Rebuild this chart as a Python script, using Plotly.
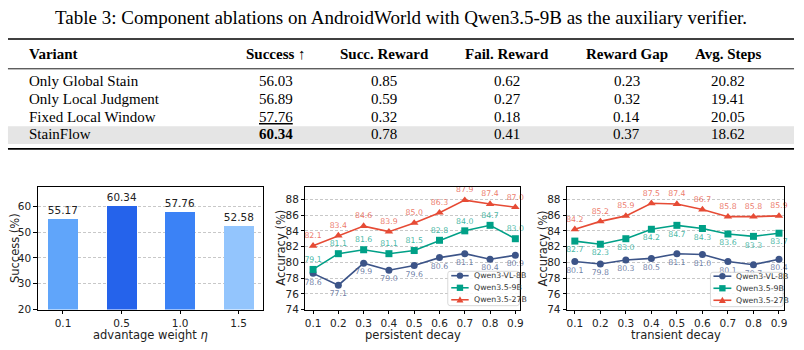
import plotly.graph_objects as go

W, H = 804, 350

# ---------------- data ----------------
caption = "Table 3: Component ablations on AndroidWorld with Qwen3.5-9B as the auxiliary verifier."
table_columns = ["Variant", "Success ↑", "Succ. Reward", "Fail. Reward", "Reward Gap", "Avg. Steps"]
variants = ["Only Global Stain", "Only Local Judgment", "Fixed Local Window", "StainFlow"]
success = ["56.03", "56.89", "<u>57.76</u>", "<b>60.34</b>"]
succ_reward = ["0.85", "0.59", "0.32", "0.78"]
fail_reward = ["0.62", "0.27", "0.18", "0.41"]
reward_gap = ["0.23", "0.32", "0.14", "0.37"]
avg_steps = ["20.82", "19.41", "20.05", "18.62"]

eta_labels = ["0.1", "0.5", "1.0", "1.5"]
eta_success = [55.17, 60.34, 57.76, 52.58]
bar_colors = ["#60a5fa", "#2563eb", "#3b82f6", "#93c5fd"]

decay = [0.1, 0.2, 0.3, 0.4, 0.5, 0.6, 0.7, 0.8, 0.9]
decay_labels = ["0.1", "0.2", "0.3", "0.4", "0.5", "0.6", "0.7", "0.8", "0.9"]
models = ["Qwen3-VL-8B", "Qwen3.5-9B", "Qwen3.5-27B"]
persistent = {
    "Qwen3-VL-8B": [78.6, 77.1, 79.9, 79.0, 79.6, 80.6, 81.1, 80.4, 80.9],
    "Qwen3.5-9B": [79.1, 81.1, 81.6, 81.1, 81.5, 82.8, 84.0, 84.7, 83.0],
    "Qwen3.5-27B": [82.1, 83.4, 84.6, 83.9, 85.0, 86.3, 87.9, 87.4, 87.0],
}
transient = {
    "Qwen3-VL-8B": [80.1, 79.8, 80.3, 80.5, 81.1, 81.0, 80.1, 79.7, 80.4],
    "Qwen3.5-9B": [82.7, 82.3, 83.0, 84.2, 84.7, 84.3, 83.6, 83.3, 83.7],
    "Qwen3.5-27B": [84.2, 85.2, 85.9, 87.5, 87.4, 86.7, 85.8, 85.8, 85.9],
}
model_colors = {"Qwen3-VL-8B": "#3C5488", "Qwen3.5-9B": "#00A087", "Qwen3.5-27B": "#E64B35"}
label_colors = {"Qwen3-VL-8B": "rgba(60,84,136,0.75)", "Qwen3.5-9B": "rgba(0,160,135,0.75)",
                "Qwen3.5-27B": "rgba(230,75,53,0.75)"}
model_symbols = {"Qwen3-VL-8B": "circle", "Qwen3.5-9B": "square", "Qwen3.5-27B": "triangle-up"}
persistent_pos = {"Qwen3-VL-8B": "bottom center", "Qwen3.5-9B": "top center", "Qwen3.5-27B": "top center"}
transient_pos = {"Qwen3-VL-8B": "bottom center", "Qwen3.5-9B": "bottom center", "Qwen3.5-27B": "top center"}

# ---------------- helpers ----------------
def px(x):
    return x / W

def py(y):
    return 1 - y / H

SERIF = "Liberation Serif"
SANS = "DejaVu Sans"

fig = go.Figure()
annotations = []
shapes = []

# ---------------- table ----------------
annotations.append(dict(x=px(402), y=py(18), xref="paper", yref="paper", text=caption,
                        showarrow=False, xanchor="center", yanchor="middle",
                        font=dict(family=SERIF, size=19, color="black")))
col_x = [26, 276, 385, 509, 629, 731]
header_y = 55
row_y = [82.7, 100.7, 119, 136.7]

shapes.append(dict(type="rect", xref="paper", yref="paper", x0=px(7), x1=px(797),
                   y0=py(128.5), y1=py(146.5), fillcolor="#e5e5e5", line=dict(width=0), layer="below"))
for yy, lw in [(39.7, 1.6), (70, 0.9), (151.5, 1.6)]:
    shapes.append(dict(type="line", xref="paper", yref="paper", x0=px(7), x1=px(797),
                       y0=py(yy), y1=py(yy), line=dict(color="black", width=lw)))

for i, c in enumerate(table_columns):
    annotations.append(dict(x=px(col_x[i]), y=py(header_y), xref="paper", yref="paper",
                            text=f"<b>{c}</b>" if "↑" not in c else "<b>Success</b> ↑",
                            showarrow=False, xanchor="left" if i == 0 else "center", yanchor="middle",
                            font=dict(family=SERIF, size=15, color="black")))
columns_data = [variants, success, succ_reward, fail_reward, reward_gap, avg_steps]
for i, col in enumerate(columns_data):
    for r, val in enumerate(col):
        annotations.append(dict(x=px(col_x[i]), y=py(row_y[r]), xref="paper", yref="paper",
                                text=val, showarrow=False,
                                xanchor="left" if i == 0 else "center", yanchor="middle",
                                font=dict(family=SERIF, size=15, color="black")))

# ---------------- chart domains ----------------
top, bottom = 190, 315
dom1 = [px(37), px(263)]
dom2 = [px(306), px(522)]
dom3 = [px(569), px(787)]
ydom = [py(bottom), py(top)]

# ---------------- chart 1: bars ----------------
fig.add_trace(go.Bar(x=eta_labels, y=eta_success, marker=dict(color=bar_colors, line=dict(width=0)),
                     width=0.51, text=[f"{v:.2f}" for v in eta_success], textposition="outside",
                     textfont=dict(family=SANS, size=10.5, color="#222"), cliponaxis=False,
                     xaxis="x", yaxis="y", showlegend=False))

# ---------------- charts 2, 3: lines ----------------
for data, pos, xa, ya in [(persistent, persistent_pos, "x2", "y2"), (transient, transient_pos, "x3", "y3")]:
    for m in models:
        fig.add_trace(go.Scatter(
            x=decay, y=data[m], mode="lines+markers+text",
            line=dict(color=model_colors[m], width=1.6),
            marker=dict(symbol=model_symbols[m], size=7 if m != "Qwen3.5-27B" else 7.5,
                        color=model_colors[m]),
            text=[f"{v:.1f}" for v in data[m]], textposition=pos[m],
            textfont=dict(family=SANS, size=7.8, color=label_colors[m]),
            cliponaxis=False, xaxis=xa, yaxis=ya, showlegend=False, name=m))

axis_common = dict(showline=True, mirror=True, linecolor="black", linewidth=1,
                   ticks="outside", ticklen=3.5, tickwidth=0.8, tickcolor="black",
                   tickfont=dict(family=SANS, size=10.5, color="#222"), zeroline=False)
grid = dict(showgrid=True, gridcolor="#c8c8c8", gridwidth=0.8, griddash="3px,2px")

layout = dict(
    width=W, height=H, margin=dict(l=0, r=0, t=0, b=0),
    paper_bgcolor="white", plot_bgcolor="white", bargap=0,
    xaxis=dict(domain=dom1, anchor="y", type="category", range=[-0.43, 3.41],
               showgrid=False, **axis_common),
    yaxis=dict(domain=ydom, anchor="x", range=[20, 67.5], tickvals=[20, 30, 40, 50, 60],
               **grid, **axis_common),
    xaxis2=dict(domain=dom2, anchor="y2", range=[0.07, 0.92], tickvals=decay, ticktext=decay_labels,
                showgrid=False, **axis_common),
    yaxis2=dict(domain=ydom, anchor="x2", range=[74, 89.6], tickvals=list(range(74, 89, 2)),
                **grid, **axis_common),
    xaxis3=dict(domain=dom3, anchor="y3", range=[0.07, 0.92], tickvals=decay, ticktext=decay_labels,
                showgrid=False, **axis_common),
    yaxis3=dict(domain=ydom, anchor="x3", range=[74, 89.6], tickvals=list(range(74, 89, 2)),
                **grid, **axis_common),
)

# axis titles
axis_titles = [
    ("advantage weight <i>η</i>", 150, 340.5, 0),
    ("persistent decay", 414, 340.5, 0),
    ("transient decay", 678, 340.5, 0),
    ("Success (%)", 14, 252.5, -90),
    ("Accuracy (%)", 282, 252.5, -90),
    ("Accuracy (%)", 545, 252.5, -90),
]
for t, x, y, ang in axis_titles:
    annotations.append(dict(x=px(x), y=py(y), xref="paper", yref="paper", text=t, showarrow=False,
                            xanchor="center", yanchor="middle", textangle=ang,
                            font=dict(family=SANS, size=11.5, color="#222")))

# manual legends
def add_legend(x0, x1, y0, y1, line_x0, line_x1, text_x, rows):
    r = 2.5
    path = (f"M {px(x0 + r)},{py(y0)} L {px(x1 - r)},{py(y0)} Q {px(x1)},{py(y0)} {px(x1)},{py(y0 + r)} "
            f"L {px(x1)},{py(y1 - r)} Q {px(x1)},{py(y1)} {px(x1 - r)},{py(y1)} "
            f"L {px(x0 + r)},{py(y1)} Q {px(x0)},{py(y1)} {px(x0)},{py(y1 - r)} "
            f"L {px(x0)},{py(y0 + r)} Q {px(x0)},{py(y0)} {px(x0 + r)},{py(y0)} Z")
    shapes.append(dict(type="path", xref="paper", yref="paper", path=path,
                       fillcolor="rgba(255,255,255,0.85)", line=dict(color="#cfcfcf", width=0.8)))
    cx = (line_x0 + line_x1) / 2
    for m, yy in zip(models, rows):
        col = model_colors[m]
        shapes.append(dict(type="line", xref="paper", yref="paper", x0=px(line_x0), x1=px(line_x1),
                           y0=py(yy), y1=py(yy), line=dict(color=col, width=1.6)))
        s = 3.2
        if model_symbols[m] == "circle":
            shapes.append(dict(type="circle", xref="paper", yref="paper", x0=px(cx - s), x1=px(cx + s),
                               y0=py(yy + s), y1=py(yy - s), fillcolor=col, line=dict(width=0)))
        elif model_symbols[m] == "square":
            shapes.append(dict(type="rect", xref="paper", yref="paper", x0=px(cx - s), x1=px(cx + s),
                               y0=py(yy + s), y1=py(yy - s), fillcolor=col, line=dict(width=0)))
        else:
            p = (f"M {px(cx)},{py(yy - s - 0.5)} L {px(cx + s + 0.3)},{py(yy + s - 0.3)} "
                 f"L {px(cx - s - 0.3)},{py(yy + s - 0.3)} Z")
            shapes.append(dict(type="path", xref="paper", yref="paper", path=p, fillcolor=col,
                               line=dict(width=0)))
        annotations.append(dict(x=px(text_x), y=py(yy), xref="paper", yref="paper", text=m,
                                showarrow=False, xanchor="left", yanchor="middle",
                                font=dict(family=SANS, size=7.8, color="#333")))

add_legend(449, 521, 276, 311, 452.5, 470, 473, [280.5, 292.8, 305])
add_legend(713, 786, 277, 312, 716, 734, 737, [281, 293.3, 305.5])

layout["annotations"] = annotations
layout["shapes"] = shapes
fig.update_layout(**layout)
fig.write_html("out.html")
